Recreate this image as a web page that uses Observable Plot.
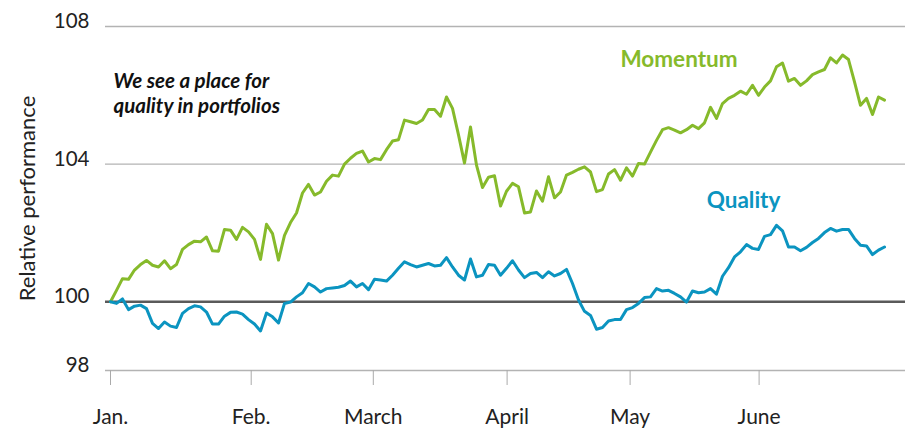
<!DOCTYPE html>
<html><head><meta charset="utf-8">
<script src="https://cdn.jsdelivr.net/npm/d3@7"></script>
<script src="https://cdn.jsdelivr.net/npm/@observablehq/plot@0.6"></script>
<style>html,body{margin:0;padding:0;background:#fff;}</style>
</head><body><div id="chart"></div>
<script>
const momentum = [100.0,100.33,100.67,100.65,100.92,101.08,101.2,101.06,101.01,101.19,
100.96,101.08,101.52,101.66,101.76,101.74,101.88,101.48,101.47,102.1,
102.08,101.81,102.16,102.03,101.81,101.23,102.25,101.98,101.21,101.93,
102.3,102.58,103.16,103.41,103.1,103.19,103.5,103.68,103.65,104.0,
104.17,104.31,104.38,104.06,104.16,104.13,104.42,104.67,104.71,105.28,
105.23,105.18,105.28,105.59,105.59,105.39,105.95,105.62,104.85,104.03,
105.08,103.97,103.32,103.62,103.66,102.78,103.21,103.44,103.34,102.58,
102.61,103.22,102.92,103.63,103.02,103.19,103.68,103.76,103.85,103.92,
103.77,103.2,103.26,103.71,103.84,103.53,103.89,103.65,104.02,104.0,
104.35,104.69,105.0,105.06,104.99,104.91,105.0,105.13,105.03,105.2,
105.65,105.33,105.76,105.91,106.0,106.12,106.03,106.29,106.0,106.24,
106.42,106.83,106.94,106.41,106.49,106.29,106.42,106.6,106.68,106.75,
107.09,106.94,107.17,107.04,106.39,105.71,105.91,105.44,105.95,105.86];
const quality = [100.0,99.95,100.08,99.77,99.87,99.9,99.8,99.37,99.22,99.41,
99.29,99.25,99.66,99.8,99.88,99.85,99.7,99.35,99.35,99.58,
99.69,99.7,99.64,99.48,99.35,99.15,99.67,99.56,99.38,99.95,
99.99,100.14,100.26,100.53,100.43,100.28,100.38,100.4,100.42,100.47,
100.6,100.43,100.53,100.35,100.65,100.63,100.6,100.77,100.97,101.16,
101.08,101.01,101.06,101.11,101.04,101.06,101.28,101.01,100.77,100.63,
101.24,100.72,100.77,101.08,101.06,100.77,100.97,101.19,100.92,100.7,
100.82,100.85,100.7,100.87,100.75,100.82,100.94,100.53,100.05,99.72,
99.6,99.2,99.25,99.44,99.48,99.48,99.77,99.83,99.95,100.12,
100.14,100.38,100.31,100.33,100.24,100.14,99.99,100.31,100.26,100.28,
100.38,100.22,100.74,100.99,101.3,101.45,101.66,101.55,101.52,101.9,
101.95,102.22,102.06,101.59,101.59,101.48,101.58,101.72,101.84,102.01,
102.13,102.05,102.1,102.1,101.84,101.64,101.62,101.37,101.5,101.59];
const monthLabels = ["Jan.","Feb.","March","April","May","June"];
const monthTickIndex = [0, 23.45, 43.8, 66.1, 86.6, 108.1];
const yTicks = [98, 100, 104, 108];
const gridTicks = [98, 104, 108];

const GREEN = "#86ba2b";
const BLUE = "#0b94c0";
const FONT = "Lato";

const chart = Plot.plot({
  width: 905,
  height: 431,
  marginLeft: 105,
  marginRight: 0,
  marginTop: 26,
  marginBottom: 61,
  style: {fontFamily: FONT, background: "#fff", color: "#222"},
  x: {domain: [-5/6, 132.5], axis: null},
  y: {domain: [98, 108], axis: null},
  marks: [
    Plot.ruleY(gridTicks, {stroke: "#b3b3b3", strokeWidth: 1.3}),
    Plot.ruleY([100], {stroke: "#5a5a5a", strokeWidth: 2.6}),
    Plot.lineY(momentum, {stroke: GREEN, strokeWidth: 3}),
    Plot.lineY(quality, {stroke: BLUE, strokeWidth: 3}),
    Plot.axisY(yTicks, {tickSize: 0, tickPadding: 16, fontSize: 20.5, dy: -5, label: null, fill: "#222"}),
    Plot.axisX(monthTickIndex, {tickSize: 15, tickPadding: 24, fontSize: 21, label: null,
      tickFormat: (d, i) => monthLabels[i], stroke: "#aaa", fill: "#222"}),
    Plot.text(["Relative performance"], {frameAnchor: "left", rotate: -90, textAnchor: "middle", dx: -78, fontSize: 22, fill: "#222"}),
    Plot.text(["We see a place for\nquality in portfolios"], {x: 0.5, y: 106.08, textAnchor: "start",
      lineAnchor: "middle", lineHeight: 1.2, fontSize: 20.5, fontWeight: "bold", fontStyle: "italic", fill: "#111"}),
    Plot.text(["Momentum"], {x: 94.75, y: 107.02, fontSize: 22.5, fontWeight: "bold", fill: GREEN}),
    Plot.text(["Quality"], {x: 105.5, y: 102.92, fontSize: 22.5, fontWeight: "bold", fill: BLUE})
  ]
});
document.getElementById("chart").appendChild(chart);
</script>
</body></html>
